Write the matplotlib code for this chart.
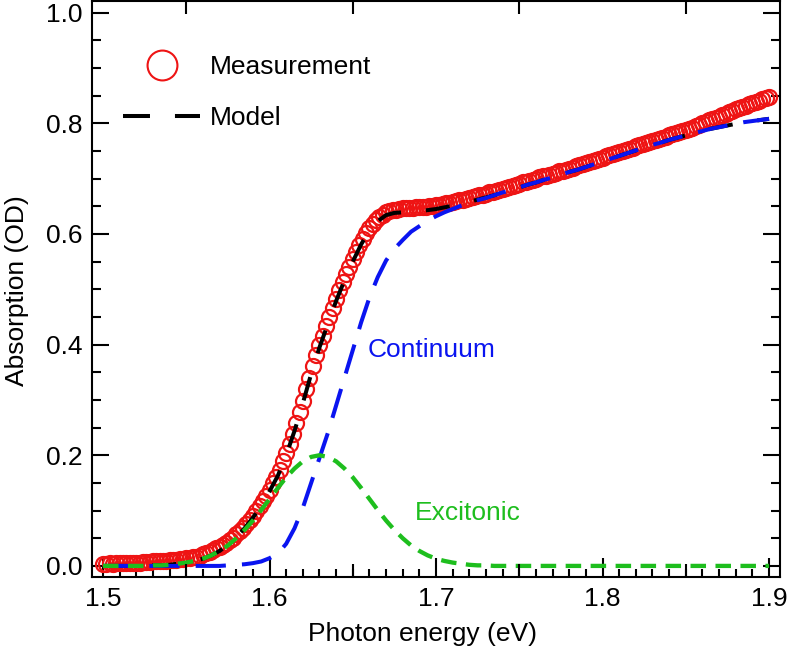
import matplotlib
matplotlib.use("Agg")
import matplotlib.pyplot as plt
import numpy as np
from matplotlib.lines import Line2D
from matplotlib.ticker import MultipleLocator, FixedLocator

plt.rcParams['font.family'] = ['Liberation Sans', 'DejaVu Sans']

# measured spectrum, sampled every 2 meV from 1.5 to 1.9 eV
meas_energy = np.linspace(1.5, 1.9, 201)
meas_abs = [
    0.004, 0.004, 0.005, 0.004, 0.005, 0.005, 0.005, 0.005, 0.006, 0.006,
    0.006, 0.006, 0.007, 0.007, 0.007, 0.008, 0.008, 0.008, 0.009, 0.009,
    0.010, 0.011, 0.011, 0.012, 0.013, 0.014, 0.015, 0.016, 0.017, 0.018,
    0.021, 0.023, 0.026, 0.028, 0.032, 0.035, 0.038, 0.042, 0.047, 0.051,
    0.057, 0.063, 0.069, 0.075, 0.083, 0.091, 0.099, 0.108, 0.117, 0.127,
    0.138, 0.149, 0.161, 0.174, 0.189, 0.204, 0.221, 0.239, 0.258, 0.278,
    0.298, 0.319, 0.340, 0.361, 0.381, 0.399, 0.416, 0.433, 0.449, 0.466,
    0.483, 0.498, 0.513, 0.527, 0.541, 0.555, 0.568, 0.580, 0.591, 0.601,
    0.610, 0.618, 0.625, 0.630, 0.635, 0.639, 0.641, 0.643, 0.644, 0.645,
    0.646, 0.646, 0.647, 0.647, 0.648, 0.648, 0.649, 0.649, 0.650, 0.651,
    0.652, 0.653, 0.654, 0.655, 0.656, 0.658, 0.659, 0.661, 0.662, 0.664,
    0.665, 0.667, 0.668, 0.670, 0.671, 0.673, 0.675, 0.676, 0.678, 0.680,
    0.682, 0.683, 0.685, 0.687, 0.689, 0.691, 0.693, 0.694, 0.696, 0.698,
    0.700, 0.702, 0.704, 0.705, 0.707, 0.709, 0.711, 0.713, 0.714, 0.716,
    0.718, 0.720, 0.722, 0.724, 0.726, 0.728, 0.730, 0.732, 0.734, 0.736,
    0.738, 0.740, 0.742, 0.744, 0.746, 0.748, 0.750, 0.752, 0.754, 0.756,
    0.758, 0.760, 0.762, 0.764, 0.766, 0.768, 0.770, 0.772, 0.774, 0.776,
    0.778, 0.780, 0.782, 0.784, 0.786, 0.788, 0.790, 0.792, 0.795, 0.797,
    0.800, 0.802, 0.805, 0.807, 0.810, 0.812, 0.815, 0.817, 0.820, 0.822,
    0.825, 0.827, 0.830, 0.832, 0.834, 0.837, 0.839, 0.841, 0.843, 0.845,
    0.847,
]

# fit curves, sampled every 5 meV
fit_energy = np.linspace(1.5, 1.9, 81)
model_abs = [
    0.000, 0.000, 0.000, 0.000, 0.000, 0.000, 0.001, 0.001, 0.002, 0.004,
    0.006, 0.009, 0.013, 0.019, 0.027, 0.038, 0.052, 0.068, 0.087, 0.109,
    0.135, 0.163, 0.200, 0.244, 0.294, 0.347, 0.395, 0.437, 0.479, 0.516,
    0.550, 0.581, 0.606, 0.623, 0.634, 0.638, 0.639, 0.641, 0.641, 0.643,
    0.645, 0.648, 0.651, 0.655, 0.658, 0.662, 0.666, 0.670, 0.675, 0.679,
    0.684, 0.689, 0.693, 0.698, 0.702, 0.707, 0.712, 0.716, 0.721, 0.726,
    0.731, 0.736, 0.741, 0.746, 0.751, 0.756, 0.761, 0.765, 0.770, 0.774,
    0.778, 0.782, 0.786, 0.790, 0.793, 0.796, 0.799, 0.802, 0.804, 0.806,
    0.808,
]
continuum_abs = [
    0.000, 0.000, 0.000, 0.000, 0.000, 0.000, 0.000, 0.000, 0.000, 0.000,
    0.000, 0.000, 0.000, 0.000, 0.000, 0.001, 0.002, 0.003, 0.005, 0.008,
    0.014, 0.022, 0.040, 0.068, 0.105, 0.150, 0.195, 0.240, 0.290, 0.340,
    0.390, 0.440, 0.485, 0.522, 0.552, 0.573, 0.589, 0.604, 0.614, 0.624,
    0.632, 0.639, 0.645, 0.651, 0.656, 0.661, 0.665, 0.670, 0.675, 0.679,
    0.684, 0.689, 0.693, 0.698, 0.702, 0.707, 0.712, 0.716, 0.721, 0.726,
    0.731, 0.736, 0.741, 0.746, 0.751, 0.756, 0.761, 0.765, 0.770, 0.774,
    0.778, 0.782, 0.786, 0.790, 0.793, 0.796, 0.799, 0.802, 0.804, 0.806,
    0.808,
]
excitonic_abs = [
    0.000, 0.000, 0.000, 0.000, 0.000, 0.000, 0.001, 0.001, 0.002, 0.004,
    0.006, 0.009, 0.013, 0.019, 0.027, 0.037, 0.050, 0.065, 0.082, 0.101,
    0.121, 0.141, 0.160, 0.176, 0.189, 0.197, 0.200, 0.197, 0.189, 0.176,
    0.160, 0.141, 0.121, 0.101, 0.082, 0.065, 0.050, 0.037, 0.027, 0.019,
    0.013, 0.009, 0.006, 0.004, 0.002, 0.001, 0.001, 0.000, 0.000, 0.000,
    0.000, 0.000, 0.000, 0.000, 0.000, 0.000, 0.000, 0.000, 0.000, 0.000,
    0.000, 0.000, 0.000, 0.000, 0.000, 0.000, 0.000, 0.000, 0.000, 0.000,
    0.000, 0.000, 0.000, 0.000, 0.000, 0.000, 0.000, 0.000, 0.000, 0.000,
    0.000,
]

RED = '#ee1414'
BLUE = '#0a14f0'
GREEN = '#1ebe1e'
FS = 19

fig = plt.figure(figsize=(7.88, 6.51), dpi=100)
ax = fig.add_axes([0.1168, 0.1137, 0.8731, 0.8848])

ax.plot(meas_energy, meas_abs, ls='none', marker='o', ms=10.8, mfc='none',
        mec=RED, mew=1.6, zorder=2)
ax.plot(fit_energy, model_abs, color='black', lw=2.9, dashes=(6, 6.2), zorder=3)
ax.plot(fit_energy, continuum_abs, color=BLUE, lw=2.9, dashes=(7.5, 4), zorder=4)
ax.plot(fit_energy, excitonic_abs, color=GREEN, lw=3.1, dashes=(3.6, 2.2), zorder=5)

ax.text(1.659, 0.390, 'Continuum', color=BLUE, fontsize=FS, va='center', ha='left')
ax.text(1.6874, 0.096, 'Excitonic', color=GREEN, fontsize=FS, va='center', ha='left')

handles = [
    Line2D([], [], ls='none', marker='o', ms=21.5, mfc='none', mec=RED, mew=1.5),
    Line2D([], [], color='black', lw=2.9, dashes=(6.7, 6.2)),
]
ax.legend(handles, ['Measurement', 'Model'], loc='upper left',
          bbox_to_anchor=(0.045, 0.906), frameon=False, fontsize=FS,
          handlelength=2.92, handletextpad=0.38, labelspacing=1.02,
          borderpad=0, borderaxespad=0)

ax.set_xlim(1.4934, 1.9066)
ax.set_ylim(-0.02, 1.021)

ax.xaxis.set_major_locator(MultipleLocator(0.1))
ax.xaxis.set_minor_locator(MultipleLocator(0.01))
ax.yaxis.set_major_locator(MultipleLocator(0.2))
ax.yaxis.set_minor_locator(MultipleLocator(0.05))
ax.xaxis.set_major_formatter(plt.FormatStrFormatter('%.1f'))
ax.yaxis.set_major_formatter(plt.FormatStrFormatter('%.1f'))

ax.tick_params(which='both', direction='in', top=True, right=True, width=1.5,
               labelsize=FS)
ax.tick_params(axis='x', which='major', length=14, pad=7)
ax.tick_params(axis='x', which='minor', length=6)
ax.tick_params(axis='y', which='major', length=12, pad=7)
ax.tick_params(axis='y', which='minor', length=6.5)
for s in ax.spines.values():
    s.set_linewidth(1.5)

# medium ticks at the half-tenth positions
ax2 = ax.twiny()
ax2.set_xlim(ax.get_xlim())
ax2.xaxis.set_major_locator(FixedLocator([1.55, 1.65, 1.75, 1.85]))
ax2.tick_params(direction='in', top=True, bottom=True, labeltop=False,
                labelbottom=False, length=9.5, width=1.5)
for s in ax2.spines.values():
    s.set_visible(False)

ax.set_xlabel('Photon energy (eV)', fontsize=FS)
ax.set_ylabel('Absorption (OD)', fontsize=FS)
ax.xaxis.set_label_coords(0.481, -0.079)
ax.yaxis.set_label_coords(-0.092, 0.498)

fig.savefig('out.png', dpi=100)
